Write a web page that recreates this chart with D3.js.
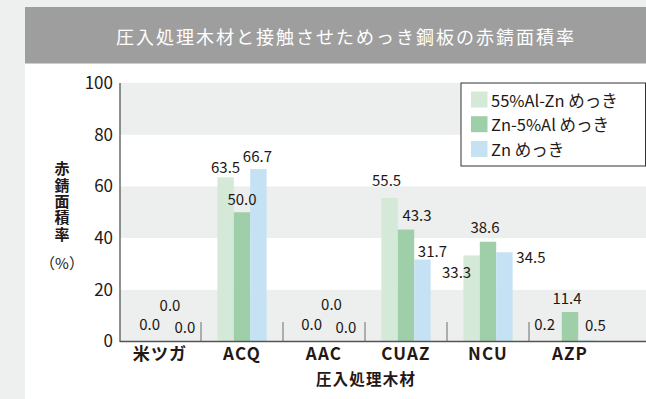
<!DOCTYPE html>
<html lang="ja">
<head>
<meta charset="utf-8">
<script src="https://cdn.jsdelivr.net/npm/d3@7"></script>
<style>
  html, body { margin: 0; padding: 0; background: #eef0ef; }
  svg { display: block; font-family: "Noto Sans CJK JP", "Noto Sans", sans-serif; }
</style>
</head>
<body>
<svg id="chart" width="646" height="399"></svg>
<script>
// 木材の種類（横軸）
const categories = ["米ツガ", "ACQ", "AAC", "CUAZ", "NCU", "AZP"];
// めっきの種類（凡例）
const seriesNames = ["55%Al-Zn めっき", "Zn-5%Al めっき", "Zn めっき"];
// 赤錆面積率 (%)
const galvalume = [0.0, 63.5, 0.0, 55.5, 33.3, 0.2];
const znAl5 = [0.0, 50.0, 0.0, 43.3, 38.6, 11.4];
const zinc = [0.0, 66.7, 0.0, 31.7, 34.5, 0.5];
const yTicks = [0, 20, 40, 60, 80, 100];

const seriesValues = [galvalume, znAl5, zinc];
const colors = ["#d4e9d8", "#9fcfa8", "#c4e2f4"];

// 数値ラベルのずらし量 [dx, dy]（棒の中心・上端からの距離, px）
const labelNudge = [
  [[6, -11.5], [0, -4], [4, -11.5], [-3, -12.5], [-15, 23], [-9, -10.5]],
  [[10, -31], [0, -7.5], [7.5, -32], [11, -8.5], [-3, -8.5], [-3, -8]],
  [[8.5, -9], [-1, -7.5], [5.5, -9], [10, -3], [26.5, 11], [9, -9]]
];

const svg = d3.select("#chart");
const W = 646, H = 399;
const textColor = "#231815";

// 外枠とタイトル帯
svg.append("rect").attr("x", 0).attr("y", 0).attr("width", W).attr("height", H).attr("fill", "#eef0ef");
svg.append("rect").attr("x", 25).attr("y", 7).attr("width", W - 25).attr("height", H - 7).attr("fill", "#ffffff");
svg.append("rect").attr("x", 25).attr("y", 7).attr("width", W - 25).attr("height", 56.5).attr("fill", "#9e9e9e");
svg.append("text")
  .attr("x", 346).attr("y", 35.5)
  .attr("text-anchor", "middle").attr("dominant-baseline", "central")
  .attr("fill", "#ffffff").attr("font-size", 18).attr("letter-spacing", 2)
  .text("圧入処理木材と接触させためっき鋼板の赤錆面積率");

// スケール
const plotLeft = 120, plotRight = 646, catRight = 611;
const y = d3.scaleLinear().domain([0, 100]).range([341.5, 83]);
const x0 = d3.scaleBand().domain(categories).range([119, catRight])
  .paddingInner(0.4).paddingOuter(0.2);
const x1 = d3.scaleBand().domain(d3.range(seriesNames.length)).range([0, x0.bandwidth()]);

// 背景の縞
const bands = d3.pairs(yTicks).filter((d, i) => i % 2 === 0);
svg.append("g").selectAll("rect").data(bands).join("rect")
  .attr("x", plotLeft).attr("width", plotRight - plotLeft)
  .attr("y", d => y(d[1])).attr("height", d => y(d[0]) - y(d[1]))
  .attr("fill", "#edefee");

// 棒
const groups = svg.append("g").selectAll("g").data(categories).join("g")
  .attr("transform", d => `translate(${x0(d)},0)`);
groups.selectAll("rect")
  .data((c, ci) => seriesValues.map((vals, si) => ({ si, v: vals[ci] })))
  .join("rect")
  .attr("x", d => x1(d.si)).attr("width", x1.bandwidth())
  .attr("y", d => y(d.v)).attr("height", d => y(0) - y(d.v))
  .attr("fill", d => colors[d.si]);

// 数値ラベル
groups.selectAll("text")
  .data((c, ci) => seriesValues.map((vals, si) => ({ si, ci, v: vals[ci] })))
  .join("text")
  .attr("x", d => x1(d.si) + x1.bandwidth() / 2 + labelNudge[d.si][d.ci][0])
  .attr("y", d => y(d.v) + labelNudge[d.si][d.ci][1])
  .attr("text-anchor", "middle")
  .attr("font-size", 15).attr("fill", textColor)
  .text(d => d3.format(".1f")(d.v));

// 区切り線
svg.append("g").selectAll("line").data(categories.slice(1)).join("line")
  .attr("x1", d => x0(d) - x0.step() * 0.2).attr("x2", d => x0(d) - x0.step() * 0.2)
  .attr("y1", 322).attr("y2", y(0))
  .attr("stroke", "#6b6b6b").attr("stroke-width", 1);

// 軸線
svg.append("line").attr("x1", plotLeft).attr("x2", plotLeft).attr("y1", y(100)).attr("y2", y(0) + 0.5)
  .attr("stroke", "#555").attr("stroke-width", 1.3);
svg.append("line").attr("x1", plotLeft).attr("x2", plotRight).attr("y1", y(0)).attr("y2", y(0))
  .attr("stroke", "#555").attr("stroke-width", 1.5);

// 縦軸目盛り
const yAxis = svg.append("g").attr("transform", `translate(${plotLeft},0)`)
  .call(d3.axisLeft(y).tickValues(yTicks).tickSize(0).tickPadding(7).tickFormat(d3.format("d")));
yAxis.select(".domain").remove();
yAxis.selectAll("text").attr("font-size", 17).attr("fill", textColor)
  .attr("font-family", "'Noto Sans CJK JP', sans-serif");

// 横軸ラベル
const xAxis = svg.append("g").attr("transform", `translate(0,${y(0)})`)
  .call(d3.axisBottom(x0).tickSize(0).tickPadding(6));
xAxis.select(".domain").remove();
xAxis.selectAll("text").attr("font-size", 17).attr("font-weight", "bold")
  .attr("letter-spacing", 1.2).attr("fill", textColor)
  .attr("font-family", "'Noto Sans CJK JP', sans-serif");

// 軸タイトル
svg.append("text").attr("x", 366).attr("y", 378).attr("dominant-baseline", "central")
  .attr("text-anchor", "middle").attr("font-size", 15.5).attr("font-weight", "bold")
  .attr("letter-spacing", 1.2).attr("fill", textColor)
  .text("圧入処理木材");

// 縦書きの縦軸タイトル
svg.append("text").attr("x", 62).attr("y", 202)
  .attr("writing-mode", "vertical-rl").attr("text-anchor", "middle")
  .attr("font-size", 15).attr("font-weight", "bold").attr("letter-spacing", 1.3)
  .attr("fill", textColor)
  .text("赤錆面積率");
svg.append("text").attr("x", 62).attr("y", 262).attr("dominant-baseline", "central")
  .attr("text-anchor", "middle").attr("font-size", 15).attr("fill", textColor)
  .text("（%）");

// 凡例
const legend = svg.append("g");
legend.append("rect").attr("x", 461).attr("y", 83).attr("width", 184.5).attr("height", 83)
  .attr("fill", "#ffffff").attr("stroke", "#333").attr("stroke-width", 1);
const items = legend.selectAll("g.item").data(seriesNames).join("g").attr("class", "item")
  .attr("transform", (d, i) => `translate(471,${91.5 + i * 24.7})`);
items.append("rect").attr("width", 16.5).attr("height", 16).attr("fill", (d, i) => colors[i]);
items.append("text").attr("x", 20).attr("y", 8).attr("dominant-baseline", "central")
  .attr("font-size", 16.5).attr("fill", textColor).text(d => d);
</script>
</body>
</html>
